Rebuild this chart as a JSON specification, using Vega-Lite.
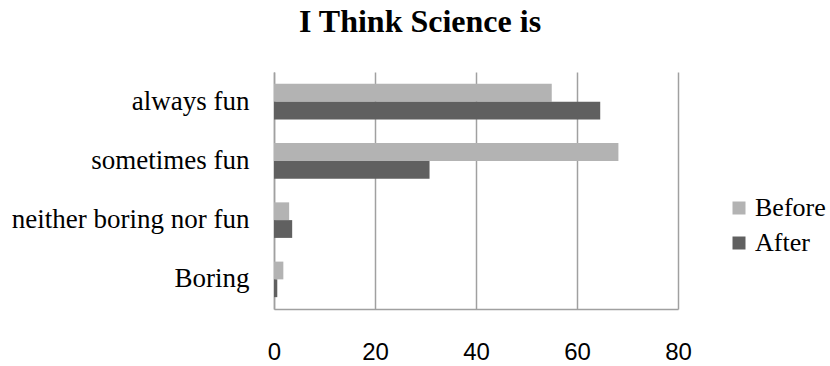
{
  "$schema": "https://vega.github.io/schema/vega-lite/v6.json",
  "autosize": "none",
  "padding": {"left": 274, "top": 72, "right": 152, "bottom": 57},
  "width": 404,
  "height": 237,
  "background": "white",
  "title": {
    "text": "I Think Science is",
    "font": "Liberation Serif",
    "fontSize": 32,
    "fontWeight": "bold",
    "color": "#000000",
    "anchor": "middle",
    "frame": "group",
    "dx": -56,
    "baseline": "alphabetic",
    "offset": 8
  },
  "data": {
    "values": [
      {"category": "always fun", "series": "Before", "value": 55.0},
      {"category": "always fun", "series": "After", "value": 64.6},
      {"category": "sometimes fun", "series": "Before", "value": 68.2},
      {"category": "sometimes fun", "series": "After", "value": 30.8},
      {"category": "neither boring nor fun", "series": "Before", "value": 3.0},
      {"category": "neither boring nor fun", "series": "After", "value": 3.6},
      {"category": "Boring", "series": "Before", "value": 1.85},
      {"category": "Boring", "series": "After", "value": 0.65}
    ]
  },
  "mark": {"type": "bar", "stroke": null},
  "encoding": {
    "y": {
      "field": "category",
      "type": "nominal",
      "sort": ["always fun", "sometimes fun", "neither boring nor fun", "Boring"],
      "scale": {"paddingInner": 0.4, "paddingOuter": 0.2},
      "axis": {
        "title": null,
        "labelFont": "Liberation Serif",
        "labelFontSize": 27,
        "labelColor": "#000000",
        "labelPadding": 25,
        "ticks": false,
        "tickSize": 0,
        "domainColor": "#a0a0a0",
        "domainWidth": 1.5,
        "grid": false,
        "labelLimit": 400
      }
    },
    "yOffset": {
      "field": "series",
      "type": "nominal",
      "sort": ["Before", "After"],
      "scale": {"paddingInner": 0, "paddingOuter": 0}
    },
    "x": {
      "field": "value",
      "type": "quantitative",
      "scale": {"domain": [0, 80], "nice": false},
      "axis": {
        "title": null,
        "values": [0, 20, 40, 60, 80],
        "labelFont": "Liberation Sans",
        "labelFontSize": 24,
        "labelColor": "#000000",
        "labelPadding": 31,
        "labelBaseline": "top",
        "ticks": false,
        "tickSize": 0,
        "domainColor": "#a0a0a0",
        "domainWidth": 1.5,
        "grid": true,
        "gridColor": "#a0a0a0",
        "gridWidth": 1.5,
        "labelFlush": false
      }
    },
    "color": {
      "field": "series",
      "type": "nominal",
      "sort": ["Before", "After"],
      "scale": {"domain": ["Before", "After"], "range": ["#b3b3b3", "#606060"]},
      "legend": {
        "title": null,
        "orient": "none",
        "legendX": 452,
        "legendY": 123,
        "padding": 0,
        "symbolType": "square",
        "symbolSize": 169,
        "symbolStrokeWidth": 0,
        "labelFont": "Liberation Serif",
        "labelFontSize": 26,
        "labelColor": "#000000",
        "labelOffset": 3,
        "rowPadding": 9
      }
    }
  },
  "config": {"view": {"stroke": null}}
}
